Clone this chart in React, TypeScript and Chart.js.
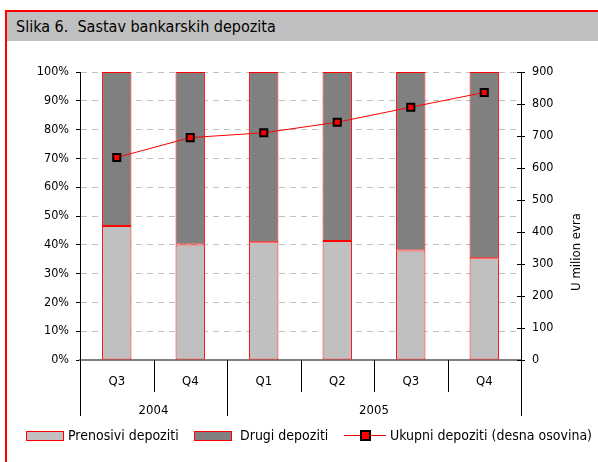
import React, { useEffect, useRef } from 'react';
import { Chart, registerables } from 'chart.js';

Chart.register(...registerables);

const FONT = '"DejaVu Sans Condensed", "DejaVu Sans", sans-serif';

const title = 'Slika 6.  Sastav bankarskih depozita';
const quarters = ['Q3', 'Q4', 'Q1', 'Q2', 'Q3', 'Q4'];
const years = ['2004', '2005'];
const yearSpans = [2, 4];
const prenosivi = [46.5, 40.1, 40.9, 41.3, 38.0, 35.3];
const drugi = [53.5, 59.9, 59.1, 58.7, 62.0, 64.7];
const ukupni = [633, 695, 710, 743, 790, 836];
const seriesNames = ['Prenosivi depoziti', 'Drugi depoziti', 'Ukupni depoziti (desna osovina)'];
const rightAxisTitle = 'U milion evra';

const decor = {
  id: 'decor',
  afterDraw(chart: any) {
    const { ctx, chartArea, scales } = chart;
    const x = scales.x;
    const y1 = scales.y1;
    const n = quarters.length;
    const bounds: number[] = [];
    for (let i = 0; i <= n; i++) {
      if (i === 0) bounds.push(chartArea.left);
      else if (i === n) bounds.push(chartArea.right);
      else bounds.push((x.getPixelForValue(i - 1) + x.getPixelForValue(i)) / 2);
    }
    const bottom = chartArea.bottom;
    ctx.save();
    ctx.strokeStyle = '#000';
    ctx.lineWidth = 1;
    for (let i = 0; i <= n; i++) {
      const px = Math.round(bounds[i]) + 0.5;
      ctx.beginPath();
      ctx.moveTo(px, bottom);
      ctx.lineTo(px, bottom + 32);
      ctx.stroke();
    }
    let idx = 0;
    const yb = [0];
    yearSpans.forEach((s) => { idx += s; yb.push(idx); });
    yb.forEach((b) => {
      const px = Math.round(bounds[b]) + 0.5;
      ctx.beginPath();
      ctx.moveTo(px, bottom);
      ctx.lineTo(px, bottom + 56);
      ctx.stroke();
    });
    ctx.fillStyle = '#000';
    ctx.font = '13px ' + FONT;
    ctx.textAlign = 'center';
    ctx.textBaseline = 'middle';
    years.forEach((yr, i) => {
      const cx = (bounds[yb[i]] + bounds[yb[i + 1]]) / 2;
      ctx.fillText(yr, cx, bottom + 51);
    });
    y1.ticks.forEach((t: any) => {
      const py = Math.round(y1.getPixelForValue(t.value)) + 0.5;
      ctx.beginPath();
      ctx.moveTo(chartArea.right - 4, py);
      ctx.lineTo(chartArea.right, py);
      ctx.stroke();
    });
    ctx.save();
    ctx.translate(577, 252);
    ctx.rotate(-Math.PI / 2);
    ctx.textAlign = 'center';
    ctx.textBaseline = 'middle';
    ctx.font = '13px ' + FONT;
    ctx.fillText(rightAxisTitle, 0, 0);
    ctx.restore();
    ctx.restore();
  },
};

export default function App() {
  const ref = useRef<HTMLCanvasElement>(null);
  useEffect(() => {
    if (!ref.current) return;
    const chart = new Chart(ref.current, {
      type: 'bar',
      data: {
        labels: quarters,
        datasets: [
          {
            type: 'line',
            label: seriesNames[2],
            data: ukupni,
            yAxisID: 'y1',
            borderColor: '#ff0000',
            borderWidth: 1,
            pointStyle: 'rect',
            pointRadius: 5,
            pointBackgroundColor: '#ff0000',
            pointBorderColor: '#000',
            pointBorderWidth: 2,
            tension: 0,
          } as any,
          {
            label: seriesNames[0],
            data: prenosivi,
            yAxisID: 'y',
            backgroundColor: '#c0c0c0',
            borderColor: '#ff0000',
            borderWidth: 1,
            borderSkipped: false,
            stack: 's',
          },
          {
            label: seriesNames[1],
            data: drugi,
            yAxisID: 'y',
            backgroundColor: '#808080',
            borderColor: '#ff0000',
            borderWidth: 1,
            borderSkipped: false,
            stack: 's',
          },
        ],
      },
      options: {
        responsive: false,
        animation: false,
        devicePixelRatio: 1,
        layout: { padding: { top: 72, bottom: 42, left: 0, right: 0 } },
        datasets: { bar: { categoryPercentage: 1, barPercentage: 0.4 } },
        plugins: { legend: { display: false }, tooltip: { enabled: false }, title: { display: false } },
        scales: {
          x: {
            stacked: true,
            offset: true,
            grid: { display: false, drawOnChartArea: false, drawTicks: false },
            border: { display: true, color: '#808080', width: 2 },
            ticks: { color: '#000', font: { family: FONT, size: 13 }, padding: 14, maxRotation: 0 },
            afterFit: (s: any) => { s.height = 60; },
          },
          y: {
            position: 'left',
            stacked: true,
            min: 0,
            max: 100,
            ticks: {
              stepSize: 10,
              color: '#000',
              padding: 7,
              font: { family: FONT, size: 12.5 },
              callback: (v: any) => v + '%',
            },
            grid: { color: '#c0c0c0', tickColor: '#000', tickLength: 4, lineWidth: 1 },
            border: { display: true, color: '#000', width: 1, dash: [6, 5] },
            afterFit: (s: any) => { s.width = 80; },
          },
          y1: {
            position: 'right',
            min: 0,
            max: 900,
            ticks: { stepSize: 100, color: '#000', padding: 7, font: { family: FONT, size: 12.5 } },
            grid: { drawOnChartArea: false, tickColor: '#000', tickLength: 4 },
            border: { display: true, color: '#000', width: 1 },
            afterFit: (s: any) => { s.width = 77; },
          },
        },
      },
      plugins: [decor],
    });
    return () => chart.destroy();
  }, []);

  const legendText: React.CSSProperties = {
    position: 'absolute',
    top: 427,
    fontFamily: FONT,
    fontSize: 14,
    lineHeight: '17px',
    color: '#000',
    whiteSpace: 'nowrap',
  };
  const box = (left: number, color: string): React.CSSProperties => ({
    position: 'absolute',
    left,
    top: 431,
    width: 36,
    height: 8,
    background: color,
    border: '1px solid #ff0000',
  });

  return (
    <div style={{ position: 'fixed', left: 0, top: 0, width: 598, height: 462, overflow: 'hidden', background: '#fff' }}>
      <div style={{ position: 'absolute', left: 5, top: 10, width: 700, height: 600, borderLeft: '2px solid #ff0000', borderTop: '2px solid #ff0000' }} />
      <div style={{ position: 'absolute', left: 7, top: 12, width: 700, height: 29, background: '#c0c0c0' }} />
      <div style={{ position: 'absolute', left: 16, top: 12, height: 29, lineHeight: '29px', fontFamily: FONT, fontSize: 16, color: '#000', whiteSpace: 'pre' }}>{title}</div>
      <canvas ref={ref} width={598} height={462} style={{ position: 'absolute', left: 0, top: 0, width: 598, height: 462 }} />
      <div style={box(26, '#c0c0c0')} />
      <div style={{ ...legendText, left: 68 }}>{seriesNames[0]}</div>
      <div style={box(194, '#808080')} />
      <div style={{ ...legendText, left: 240 }}>{seriesNames[1]}</div>
      <div style={{ position: 'absolute', left: 344, top: 435, width: 42, height: 1, background: '#ff0000' }} />
      <div style={{ position: 'absolute', left: 360, top: 430, width: 7, height: 7, background: '#ff0000', border: '2px solid #000' }} />
      <div style={{ ...legendText, left: 390 }}>{seriesNames[2]}</div>
    </div>
  );
}
